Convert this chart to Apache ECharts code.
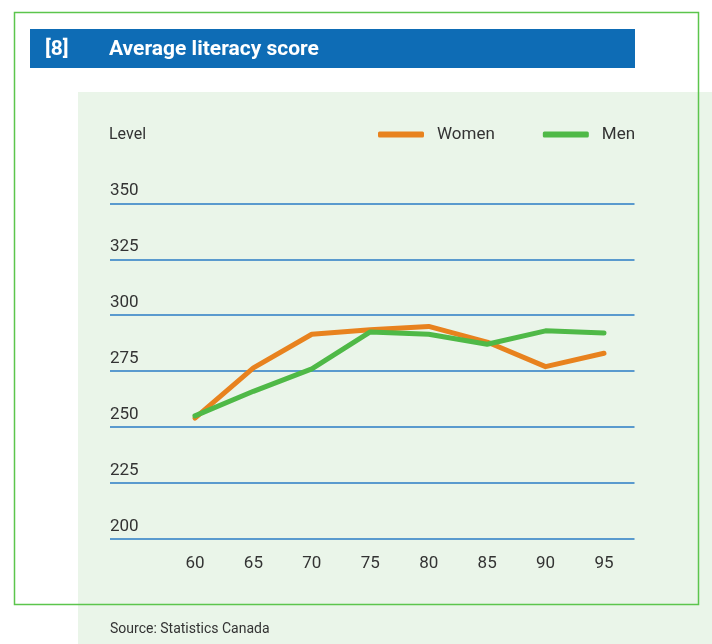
<!DOCTYPE html>
<html>
<head>
<meta charset="utf-8">
<script src="https://cdn.jsdelivr.net/npm/echarts@6/dist/echarts.min.js"></script>
<style>
  html, body { margin: 0; padding: 0; background: #fff; }
  #chart { width: 712px; height: 644px; }
</style>
</head>
<body>
<div id="chart"></div>
<script>
var years = [60, 65, 70, 75, 80, 85, 90, 95];
var women = [254, 276.5, 291.5, 293.5, 295, 288, 277, 283];
var men = [255, 266, 276, 292.5, 291.5, 287, 293, 292];
var yTicks = [200, 225, 250, 275, 300, 325, 350];

var fontName = 'Roboto';
var textColor = '#333333';

var chart = echarts.init(document.getElementById('chart'));

function pairs(vals) {
  var out = [];
  for (var i = 0; i < years.length; i++) out.push([years[i], vals[i]]);
  return out;
}

var option = {
  backgroundColor: '#ffffff',
  animation: false,
  graphic: [
    // light green panel
    { type: 'rect', z: -10, shape: { x: 78, y: 92, width: 634, height: 552 }, style: { fill: '#eaf5e9' } },
    // outer green frame
    { type: 'rect', z: 0, shape: { x: 14.5, y: 12.5, width: 684, height: 592 }, style: { fill: 'none', stroke: '#5cc54d', lineWidth: 1.5 } },
    // title bar
    { type: 'rect', z: 1, shape: { x: 30, y: 29, width: 605, height: 39 }, style: { fill: '#0e6cb5' } },
    { type: 'text', z: 2, left: 45, top: 39, style: { text: '[8]', fill: '#ffffff', font: 'bold 21px ' + fontName } },
    { type: 'text', z: 2, left: 109, top: 39, style: { text: 'Average literacy score', fill: '#ffffff', font: 'bold 21px ' + fontName } },
    { type: 'text', z: 2, left: 109, top: 127, style: { text: 'Level', fill: textColor, font: '16px ' + fontName } },
    { type: 'text', z: 2, left: 110, top: 622, style: { text: 'Source: Statistics Canada', fill: textColor, font: '14px ' + fontName } }
  ],
  legend: {
    left: 378,
    top: 126,
    padding: 0,
    itemWidth: 46,
    itemHeight: 6,
    itemGap: 48,
    icon: 'roundRect',
    textStyle: { fontFamily: fontName, fontSize: 17, color: textColor, padding: [0, 0, 0, 8] },
    data: ['Women', 'Men']
  },
  grid: {
    left: 110,
    right: 77.5,
    top: 203.3,
    bottom: 105,
    containLabel: false
  },
  xAxis: {
    type: 'value',
    min: 52.73,
    max: 97.61,
    axisLine: { show: false },
    axisTick: { show: false },
    splitLine: { show: false },
    axisLabel: {
      customValues: years,
      margin: 16,
      fontFamily: fontName,
      fontSize: 17,
      color: textColor
    }
  },
  yAxis: {
    type: 'value',
    min: 200,
    max: 350,
    interval: 25,
    axisLine: { show: false },
    axisTick: { show: false },
    axisLabel: {
      inside: true,
      margin: 0,
      verticalAlign: 'bottom',
      padding: [0, 0, 4, 0],
      fontFamily: fontName,
      fontSize: 17,
      color: textColor
    },
    splitLine: { lineStyle: { color: '#2a7bc4', width: 1.5 } }
  },
  series: [
    {
      name: 'Women',
      type: 'line',
      data: pairs(women),
      showSymbol: false,
      symbol: 'none',
      color: '#e8821e',
      lineStyle: { width: 5, cap: 'round', join: 'round' },
      z: 3
    },
    {
      name: 'Men',
      type: 'line',
      data: pairs(men),
      showSymbol: false,
      symbol: 'none',
      color: '#4fb947',
      lineStyle: { width: 5, cap: 'round', join: 'round' },
      z: 4
    }
  ]
};

option && chart.setOption(option);
</script>
</body>
</html>
